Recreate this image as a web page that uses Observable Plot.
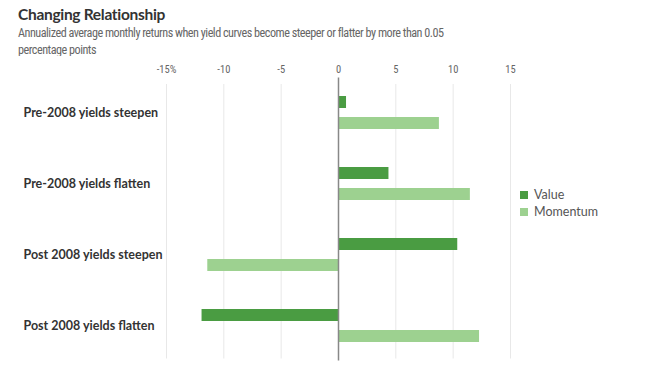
<!DOCTYPE html>
<html>
<head>
<meta charset="utf-8">
<script src="https://cdn.jsdelivr.net/npm/d3@7"></script>
<script src="https://cdn.jsdelivr.net/npm/@observablehq/plot@0.6"></script>
<style>
  html, body { margin: 0; padding: 0; background: #fff; }
  body { width: 650px; height: 369px; position: relative; overflow: hidden; font-family: Lato, "Open Sans", sans-serif; }
  #head { position: absolute; left: 18px; top: 4px; width: 620px; }
  #title { font-weight: 700; font-size: 15.5px; color: #333; letter-spacing: -0.3px; line-height: 20px; }
  #sub { font-family: "Roboto Condensed", Lato, sans-serif; font-size: 12.2px; color: #666; line-height: 16.5px; letter-spacing: -0.5px; margin-top: 1px; }
  #chart { position: absolute; left: 0; top: 56px; }
  #legend { position: absolute; left: 520px; top: 186px; font-size: 12.5px; color: #555; line-height: 17px; }
  #legend .sw { display: inline-block; width: 8px; height: 8px; margin-right: 6px; vertical-align: 0px; }
</style>
</head>
<body>
<div id="head">
  <div id="title">Changing Relationship</div>
  <div id="sub">Annualized average monthly returns when yield curves become steeper or flatter by more than 0.05<br>percentage points</div>
</div>
<div id="chart"></div>
<div id="legend"></div>
<script>
const categories = ["Pre-2008 yields steepen", "Pre-2008 yields flatten", "Post 2008 yields steepen", "Post 2008 yields flatten"];
const series = ["Value", "Momentum"];
const valueReturns = [0.7, 4.4, 10.4, -11.9];
const momentumReturns = [8.8, 11.5, -11.4, 12.3];
const xTicks = [-15, -10, -5, 0, 5, 10, 15];
const xTickLabels = ["-15%", "-10", "-5", "0", "5", "10", "15"];
const colors = ["#4a9c42", "#9dd190"];

const rows = [];
categories.forEach((c, i) => {
  rows.push({category: c, series: "Value", value: valueReturns[i]});
  rows.push({category: c, series: "Momentum", value: momentumReturns[i]});
});

const chart = Plot.plot({
  width: 650,
  height: 313,
  marginTop: 20.5,
  marginBottom: 8.5,
  marginLeft: 166,
  marginRight: 140,
  style: {fontFamily: "Lato, 'Open Sans', sans-serif", background: "#fff"},
  x: {domain: [-15, 15]},
  y: {domain: categories, padding: 0},
  color: {domain: series, range: colors},
  marks: [
    Plot.ruleX(xTicks.filter(d => d !== 0), {stroke: "#e8e8e8", strokeWidth: 1, insetTop: 7.5, insetBottom: 2}),
    Plot.axisX({
      anchor: "top", ticks: xTicks, tickSize: 0, tickPadding: 4,
      tickFormat: (d) => xTickLabels[xTicks.indexOf(d)],
      fontFamily: "'Roboto Condensed', Lato, sans-serif",
      fontSize: 10.5, fill: "#666", label: null
    }),
    Plot.axisY({
      anchor: "left", tickSize: 0, tickPadding: 0, textAnchor: "start", dx: -143,
      fontSize: 12.5, fontWeight: 700, fill: "#333", label: null
    }),
    Plot.barX(rows.filter(d => d.series === "Value"), {
      y: "category", x: "value", fill: "series", insetTop: 19, insetBottom: 40
    }),
    Plot.barX(rows.filter(d => d.series === "Momentum"), {
      y: "category", x: "value", fill: "series", insetTop: 40, insetBottom: 19
    }),
    Plot.ruleX([0], {stroke: "#888", strokeWidth: 1.5, insetTop: 1})
  ]
});
document.getElementById("chart").appendChild(chart);

const legend = document.getElementById("legend");
series.forEach((s, i) => {
  const row = document.createElement("div");
  row.innerHTML = `<span class="sw" style="background:${colors[i]}"></span>${s}`;
  legend.appendChild(row);
});
</script>
</body>
</html>
